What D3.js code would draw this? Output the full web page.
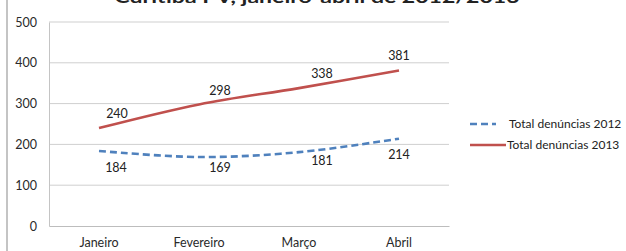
<!DOCTYPE html>
<html>
<head>
<meta charset="utf-8">
<script src="https://cdn.jsdelivr.net/npm/d3@7/dist/d3.min.js"></script>
<style>
  html, body { margin: 0; padding: 0; background: #fff; }
  svg { display: block; font-family: Lato, "Open Sans", sans-serif; }
</style>
</head>
<body>
<svg id="chart" width="626" height="251"></svg>
<script>
// ---- data ----
const months = ["Janeiro", "Fevereiro", "Março", "Abril"];
const values2012 = [184, 169, 181, 214];
const values2013 = [240, 298, 338, 381];
const seriesNames = ["Total denúncias 2012", "Total denúncias 2013"];
const yTicks = [0, 100, 200, 300, 400, 500];
const title = "Curitiba PV, janeiro-abril de 2012/2013";

// ---- layout / style ----
const W = 626, H = 251;
const plot = { left: 49, right: 449, top: 22, bottom: 226 };
const colors = ["#4F81BD", "#C0504D"];
// label offsets (styling only)
const labelDx = [[17, 21, 23, 0], [18, 21, 23, 0]];
const labelDy = [[21, 15, 13, 20], [-10, -9, -10, -11]];

const svg = d3.select("#chart");

const x = d3.scaleBand().domain(months).range([plot.left, plot.right]);
const y = d3.scaleLinear().domain([0, 500]).range([plot.bottom, plot.top]);
const cx = m => x(m) + x.bandwidth() / 2;

// frame line at left
svg.append("line")
  .attr("x1", 7).attr("x2", 7).attr("y1", 0).attr("y2", H)
  .attr("stroke", "#c4c4c4").attr("stroke-width", 2);

// title (cut off at top, as in the reference)
svg.append("text")
  .attr("x", 317).attr("y", 3)
  .attr("text-anchor", "middle")
  .attr("font-size", 17).attr("font-weight", "bold")
  .attr("fill", "#222")
  .attr("textLength", 405).attr("lengthAdjust", "spacingAndGlyphs")
  .text(title);

// gridlines
svg.append("g").selectAll("line")
  .data(yTicks.filter(t => t > 0))
  .join("line")
  .attr("x1", plot.left).attr("x2", plot.right)
  .attr("y1", d => y(d)).attr("y2", d => y(d))
  .attr("stroke", "#cfcfcf").attr("stroke-width", 1);

// y axis
const yAxis = svg.append("g")
  .attr("transform", `translate(${plot.left},0)`)
  .call(d3.axisLeft(y).tickValues(yTicks).tickSize(0).tickPadding(12));
yAxis.select(".domain").attr("stroke", "#c4c4c4");
yAxis.selectAll("text").attr("font-size", 12.5).attr("fill", "#2a2a2a")
  .attr("font-family", "Lato, sans-serif");

// x axis
const xAxis = svg.append("g")
  .attr("transform", `translate(0,${plot.bottom})`)
  .call(d3.axisBottom(x).tickSize(0).tickPadding(12));
xAxis.select(".domain").attr("stroke", "#bdbdbd");
xAxis.selectAll("text").attr("font-size", 12.5).attr("fill", "#2a2a2a")
  .attr("font-family", "Lato, sans-serif");

// lines
const series = [values2012, values2013];
const line = d3.line()
  .x((d, i) => cx(months[i]))
  .y(d => y(d))
  .curve(d3.curveCatmullRom.alpha(0.5));

series.forEach((vals, s) => {
  svg.append("path")
    .datum(vals)
    .attr("d", line)
    .attr("fill", "none")
    .attr("stroke", colors[s])
    .attr("stroke-width", 2.6)
    .attr("stroke-dasharray", s === 0 ? "7,4" : null);

  svg.append("g").selectAll("text")
    .data(vals)
    .join("text")
    .attr("x", (d, i) => cx(months[i]) + labelDx[s][i])
    .attr("y", (d, i) => y(d) + labelDy[s][i])
    .attr("text-anchor", "middle")
    .attr("font-size", 12.5)
    .attr("fill", "#222")
    .text(d => d);
});

// legend
const legend = svg.append("g");
seriesNames.forEach((name, s) => {
  const ly = 124 + s * 21;
  legend.append("line")
    .attr("x1", 470).attr("x2", s === 0 ? 496 : 506)
    .attr("y1", ly).attr("y2", ly)
    .attr("stroke", colors[s]).attr("stroke-width", 2.6)
    .attr("stroke-dasharray", s === 0 ? "7,4" : null);
  legend.append("text")
    .attr("x", s === 0 ? 509 : 507).attr("y", ly + 4)
    .attr("font-size", 12).attr("fill", "#222")
    .text(name);
});
</script>
</body>
</html>
